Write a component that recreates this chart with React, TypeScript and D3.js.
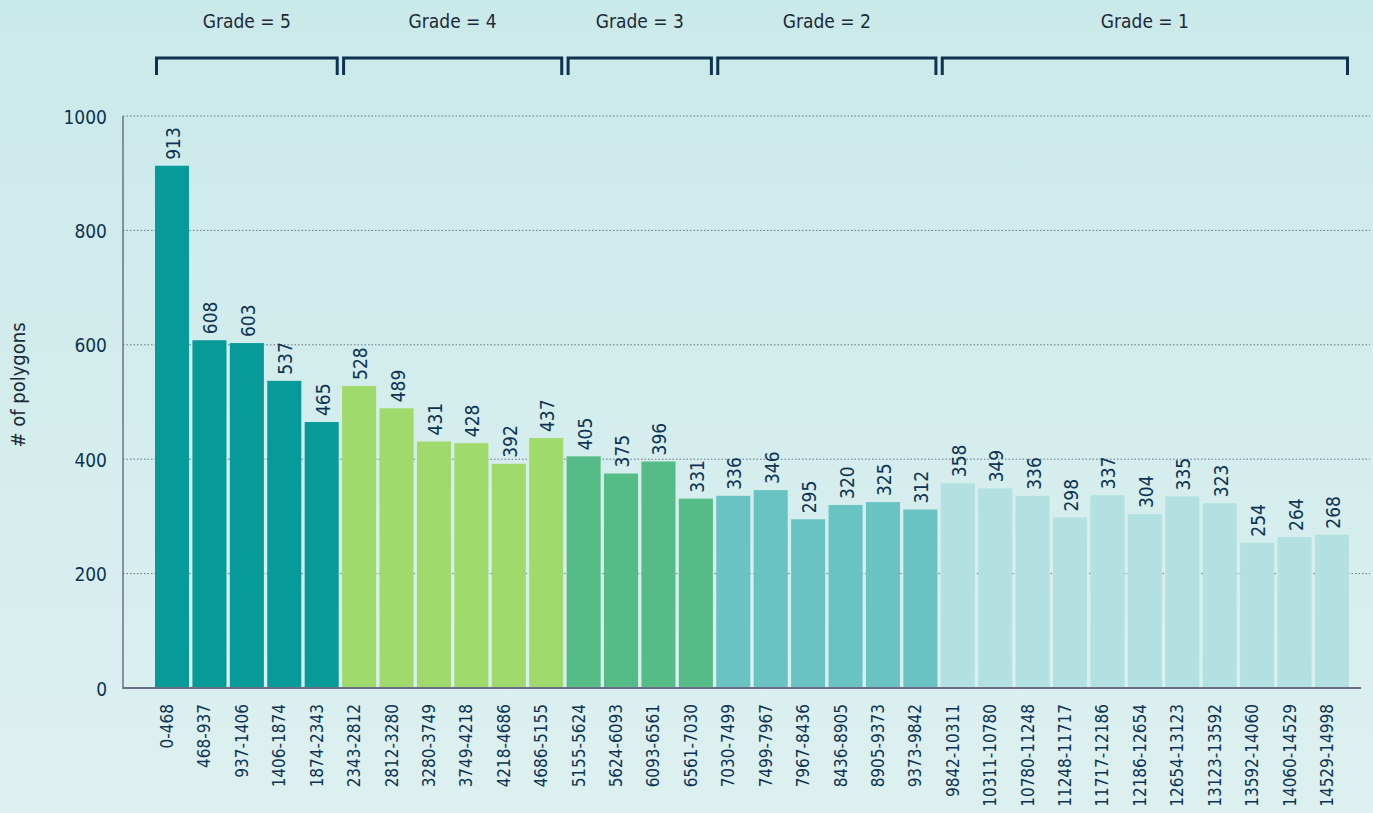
import * as d3 from 'd3'

const categories = [
  '0-468', '468-937', '937-1406', '1406-1874', '1874-2343',
  '2343-2812', '2812-3280', '3280-3749', '3749-4218', '4218-4686', '4686-5155',
  '5155-5624', '5624-6093', '6093-6561', '6561-7030',
  '7030-7499', '7499-7967', '7967-8436', '8436-8905', '8905-9373', '9373-9842',
  '9842-10311', '10311-10780', '10780-11248', '11248-11717', '11717-12186', '12186-12654',
  '12654-13123', '13123-13592', '13592-14060', '14060-14529', '14529-14998',
]
const counts = [
  913, 608, 603, 537, 465,
  528, 489, 431, 428, 392, 437,
  405, 375, 396, 331,
  336, 346, 295, 320, 325, 312,
  358, 349, 336, 298, 337, 304, 335, 323, 254, 264, 268,
]
const grades = ['Grade = 5', 'Grade = 4', 'Grade = 3', 'Grade = 2', 'Grade = 1']
const gradeSizes = [5, 6, 4, 6, 11]
const gradeColors = ['#069b99', '#a1da6c', '#55bb87', '#69c3c2', '#b3e1e1']
const yTicks = [0, 200, 400, 600, 800, 1000]

const W = 1373
const H = 813
const FONT = '"DejaVu Sans Condensed", "DejaVu Sans", sans-serif'
const INK = '#0e3453'

const App = () => {
  const x = d3.scaleBand<string>()
    .domain(categories)
    .range([155, 1349])
    .paddingInner(0.09)
    .paddingOuter(0)

  const y = d3.scaleLinear().domain([0, 1000]).range([688, 116])

  // which grade every bar belongs to
  const gradeOf: number[] = []
  gradeSizes.forEach((n, g) => { for (let i = 0; i < n; i++) gradeOf.push(g) })

  let start = 0
  const groups = gradeSizes.map((n, g) => {
    const first = categories[start]
    const last = categories[start + n - 1]
    start += n
    return {
      label: grades[g],
      x0: (x(first) as number) + 1.5,
      x1: (x(last) as number) + x.bandwidth() - 1.5,
    }
  })

  return (
    <svg width={W} height={H} style={{position: 'absolute', left: 0, top: 0}} fontFamily={FONT}>
      <defs>
        <linearGradient id="bg" x1="0" y1="0" x2="0" y2="1">
          <stop offset="0" stopColor="#cae9e9"/>
          <stop offset="1" stopColor="#ddf0f0"/>
        </linearGradient>
      </defs>
      <rect width={W} height={H} fill="url(#bg)"/>

      {/* grade brackets */}
      {groups.map((g) => (
        <g key={g.label}>
          <path
            d={`M${g.x0},75 V58 H${g.x1} V75`}
            fill="none" stroke="#0d3350" strokeWidth={3}
          />
          <text x={(g.x0 + g.x1) / 2} y={28} textAnchor="middle" fontSize={19} fill="#1c2a38">
            {g.label}
          </text>
        </g>
      ))}

      {/* grid */}
      {yTicks.filter((t) => t > 0).map((t) => (
        <line key={t} x1={123} x2={1370} y1={y(t)} y2={y(t)}
              stroke="#6b7280" strokeWidth={1} strokeDasharray="1.5,2"/>
      ))}

      {/* y axis */}
      <line x1={123} x2={123} y1={116} y2={689} stroke="#6b7085" strokeWidth={1.5}/>
      {yTicks.map((t) => (
        <text key={t} x={107} y={y(t)} dy="0.4em" textAnchor="end" fontSize={19} fill={INK}>
          {t}
        </text>
      ))}
      <text transform={`translate(25,385) rotate(-90)`} textAnchor="middle" fontSize={20} fill="#1c2a38">
        # of polygons
      </text>

      {/* bars */}
      {categories.map((c, i) => (
        <rect key={c} x={x(c)} y={y(counts[i])} width={x.bandwidth()} height={y(0) - y(counts[i])}
              fill={gradeColors[gradeOf[i]]}/>
      ))}

      {/* value labels */}
      {categories.map((c, i) => (
        <text key={c}
              transform={`translate(${(x(c) as number) + x.bandwidth() / 2},${y(counts[i]) - 6}) rotate(-90)`}
              dy="0.42em" fontSize={19} fill={INK}>
          {counts[i]}
        </text>
      ))}

      {/* x axis */}
      <line x1={123} x2={1361} y1={688} y2={688} stroke="#6b7085" strokeWidth={2}/>
      {categories.map((c) => (
        <text key={c}
              transform={`translate(${(x(c) as number) + x.bandwidth() / 2},704) rotate(-90)`}
              dy="0.06em" textAnchor="end" fontSize={17} fill={INK}>
          {c}
        </text>
      ))}
    </svg>
  )
}

export default App
